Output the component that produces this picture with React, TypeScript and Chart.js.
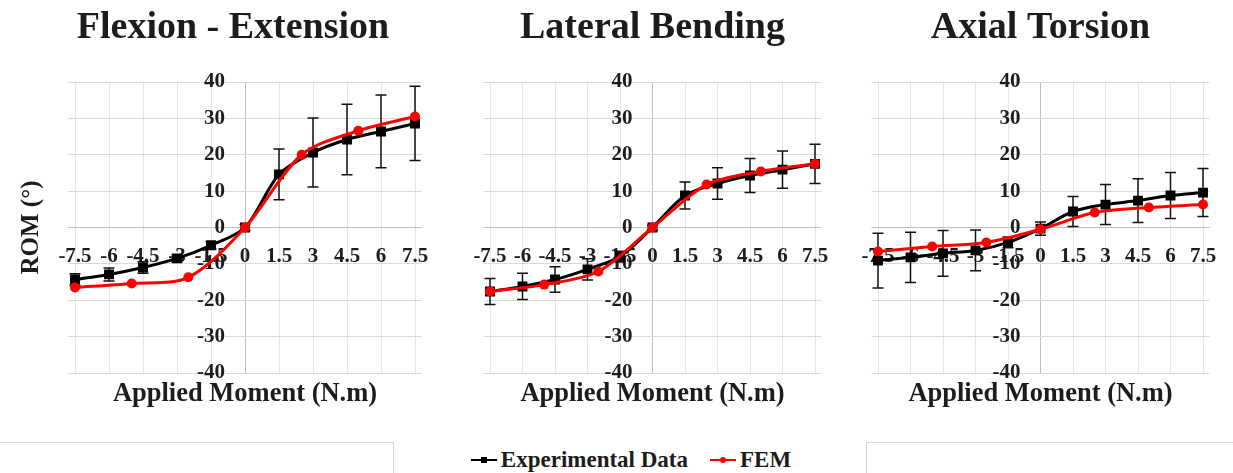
import React, { useEffect, useRef } from "react";
import { Chart, registerables } from "chart.js";

Chart.register(...registerables);

// ---------- data ----------
const xTicks = [-7.5, -6, -4.5, -3, -1.5, 0, 1.5, 3, 4.5, 6, 7.5];
const yTicks = [-40, -30, -20, -10, 0, 10, 20, 30, 40];
const expMoments = [-7.5, -6, -4.5, -3, -1.5, 0, 1.5, 3, 4.5, 6, 7.5];
const femMoments = [-7.5, -5, -2.5, 0, 2.5, 5, 7.5];

const panelTitles = ["Flexion - Extension", "Lateral Bending", "Axial Torsion"];
const seriesNames = ["Experimental Data", "FEM"];
const xAxisTitle = "Applied Moment (N.m)";
const yAxisTitle = "ROM (°)";

const flexExp = [-14.3, -12.9, -11.0, -8.5, -4.9, 0, 14.6, 20.6, 24.2, 26.4, 28.6];
const flexErr = [1.6, 1.8, 1.6, 1.0, 1.0, 0.8, 7.0, 9.5, 9.7, 10.0, 10.2];
const flexFem = [-16.5, -15.4, -13.7, 0, 20.0, 26.6, 30.5];

const latExp = [-17.6, -16.2, -14.3, -11.5, -8.0, 0, 8.8, 12.1, 14.3, 15.9, 17.5];
const latErr = [3.6, 3.6, 3.5, 2.9, 1.5, 0.6, 3.7, 4.3, 4.7, 5.1, 5.4];
const latFem = [-17.6, -15.7, -12.1, 0, 11.8, 15.4, 17.5];

const axExp = [-9.1, -8.2, -7.1, -6.3, -4.1, -0.3, 4.4, 6.3, 7.4, 8.8, 9.6];
const axErr = [7.5, 6.9, 6.3, 5.6, 1.5, 1.8, 4.1, 5.5, 6.0, 6.3, 6.6];
const axFem = [-6.6, -5.2, -4.1, -0.5, 4.1, 5.5, 6.3];

const panelExp = [flexExp, latExp, axExp];
const panelErr = [flexErr, latErr, axErr];
const panelFem = [flexFem, latFem, axFem];

// ---------- layout / style ----------
const FONT = '"Liberation Serif", "Times New Roman", serif';
const TEXT = "#1c1c1c";
const CANVAS_H = 420;
const X_MIN = -7.8;
const X_MAX = 7.8;
const Y_MIN = -40;
const Y_MAX = 40;
const AREA_H = 291;
const Y_LABEL_GAP = 20; // px between y tick labels and the vertical axis
const X_LABEL_GAP = 16; // px between the zero line and the x tick labels
const layouts = [
  { left: 0, width: 430, padL: 44.2, padR: 8.2, areaW: 353.6, rom: true },
  { left: 440, width: 400, padL: 43.5, padR: 18.5, areaW: 338, rom: false },
  { left: 840, width: 393, padL: 31.5, padR: 23.5, areaW: 338, rom: false },
];

const errorBarPlugin = {
  id: "errorBars",
  beforeDatasetsDraw(chart: any) {
    const { ctx } = chart;
    const yScale = chart.scales.y;
    chart.data.datasets.forEach((ds: any, i: number) => {
      if (!ds.errors) return;
      const meta = chart.getDatasetMeta(i);
      ctx.save();
      ctx.strokeStyle = "#111";
      ctx.lineWidth = 1.5;
      meta.data.forEach((pt: any, j: number) => {
        const v = ds.data[j].y;
        const e = ds.errors[j];
        const yTop = yScale.getPixelForValue(v + e);
        const yBot = yScale.getPixelForValue(v - e);
        const x = pt.x;
        ctx.beginPath();
        ctx.moveTo(x, yTop);
        ctx.lineTo(x, yBot);
        ctx.moveTo(x - 5.5, yTop);
        ctx.lineTo(x + 5.5, yTop);
        ctx.moveTo(x - 5.5, yBot);
        ctx.lineTo(x + 5.5, yBot);
        ctx.stroke();
      });
      ctx.restore();
    });
  },
};

function makeConfig(i: number): any {
  const L = layouts[i];
  const tickFont = { family: FONT, size: 21, weight: "bold" as const };
  const ppuX = L.areaW / (X_MAX - X_MIN);
  const ppuY = AREA_H / (Y_MAX - Y_MIN);
  const scales: any = {
    x: {
      type: "linear",
      position: { y: -X_LABEL_GAP / ppuY },
      min: X_MIN,
      max: X_MAX,
      afterBuildTicks: (s: any) => {
        s.ticks = xTicks.map((v) => ({ value: v }));
      },
      ticks: {
        font: tickFont,
        color: TEXT,
        padding: 0,
        autoSkip: false,
        maxRotation: 0,
        minRotation: 0,
        callback: (v: any) => String(v),
      },
      grid: {
        drawTicks: false,
        color: (c: any) => (c.tick && c.tick.value === 0 ? "#bfbfbf" : "#e6e6e6"),
      },
      border: { display: false },
    },
    y: {
      type: "linear",
      position: { x: -Y_LABEL_GAP / ppuX },
      min: Y_MIN,
      max: Y_MAX,
      afterBuildTicks: (s: any) => {
        s.ticks = yTicks.map((v) => ({ value: v }));
      },
      ticks: {
        font: tickFont,
        color: TEXT,
        padding: 0,
        callback: (v: any) => String(v),
      },
      grid: {
        drawTicks: false,
        color: (c: any) => (c.tick && c.tick.value === 0 ? "#bfbfbf" : "#dadada"),
      },
      border: { display: false },
    },
    xTitle: {
      type: "linear",
      axis: "x",
      position: "bottom",
      min: 0,
      max: 1,
      ticks: { display: false },
      grid: { display: false, drawTicks: false },
      border: { display: false },
      title: {
        display: true,
        text: xAxisTitle,
        color: TEXT,
        font: { family: FONT, size: 26.5, weight: "bold" },
        padding: { top: 5, bottom: 10.2 },
      },
    },
  };
  if (L.rom) {
    scales.yTitle = {
      type: "linear",
      axis: "y",
      position: "left",
      min: Y_MIN,
      max: Y_MAX,
      ticks: { display: false },
      grid: { display: false, drawTicks: false },
      border: { display: false },
      title: {
        display: true,
        text: yAxisTitle,
        color: TEXT,
        font: { family: FONT, size: 25, weight: "bold", lineHeight: 1 },
        padding: { top: -24.7, bottom: 23.7 },
      },
    };
  }
  return {
    type: "scatter",
    data: {
      datasets: [
        {
          label: seriesNames[0],
          data: expMoments.map((x, j) => ({ x, y: panelExp[i][j] })),
          errors: panelErr[i],
          showLine: true,
          tension: 0.3,
          borderColor: "#000000",
          backgroundColor: "#000000",
          borderWidth: 3,
          pointStyle: "rect",
          pointRadius: 7,
          pointBorderWidth: 0,
          order: 1,
        },
        {
          label: seriesNames[1],
          data: femMoments.map((x, j) => ({ x, y: panelFem[i][j] })),
          showLine: true,
          tension: 0.3,
          borderColor: "#ff0000",
          backgroundColor: "#ff0000",
          borderWidth: 3,
          pointStyle: "circle",
          pointRadius: 5,
          pointBorderWidth: 0,
          order: 0,
        },
      ],
    },
    options: {
      responsive: false,
      animation: false,
      layout: { padding: { left: L.padL, right: L.padR, top: 0, bottom: 0 } },
      scales,
      plugins: {
        legend: { display: false },
        tooltip: { enabled: false },
        title: {
          display: true,
          text: panelTitles[i],
          color: TEXT,
          font: { family: FONT, size: 38, weight: "bold" },
          padding: { top: 5.2, bottom: 31.2 },
        },
      },
    },
    plugins: [errorBarPlugin],
  };
}

function LegendItem({ color, label, square }: { color: string; label: string; square: boolean }) {
  return (
    <div style={{ display: "flex", alignItems: "center", marginLeft: 11, marginRight: 11 }}>
      <div style={{ position: "relative", width: 26, height: 10, marginRight: 4 }}>
        <div style={{ position: "absolute", left: 0, top: 4, width: 26, height: 2, background: color }} />
        <div
          style={{
            position: "absolute",
            left: 10,
            top: 2,
            width: 6,
            height: 6,
            background: color,
            borderRadius: square ? 0 : 3,
          }}
        />
      </div>
      <span style={{ fontFamily: FONT, fontWeight: "bold", fontSize: 23, color: TEXT }}>{label}</span>
    </div>
  );
}

export default function App() {
  const r0 = useRef<HTMLCanvasElement>(null);
  const r1 = useRef<HTMLCanvasElement>(null);
  const r2 = useRef<HTMLCanvasElement>(null);
  const refs = [r0, r1, r2];

  useEffect(() => {
    const charts = refs.map((r, i) => new Chart(r.current as HTMLCanvasElement, makeConfig(i)));
    return () => charts.forEach((c) => c.destroy());
  }, []);

  return (
    <div
      style={{
        position: "fixed",
        left: 0,
        top: 0,
        width: 1233,
        height: 473,
        background: "#ffffff",
        overflow: "hidden",
      }}
    >
      {layouts.map((L, i) => (
        <canvas
          key={i}
          ref={refs[i]}
          width={L.width}
          height={CANVAS_H}
          style={{ position: "absolute", left: L.left, top: 0, width: L.width, height: CANVAS_H }}
        />
      ))}
      {/* bottom frame lines */}
      <div style={{ position: "absolute", left: 0, top: 442, width: 393, height: 1, background: "#d6d6d6" }} />
      <div style={{ position: "absolute", left: 393, top: 442, width: 1, height: 31, background: "#d6d6d6" }} />
      <div style={{ position: "absolute", left: 866, top: 442, width: 367, height: 1, background: "#d6d6d6" }} />
      <div style={{ position: "absolute", left: 866, top: 442, width: 1, height: 31, background: "#d6d6d6" }} />
      <div
        style={{
          position: "absolute",
          left: 0,
          top: 446,
          width: 1262,
          height: 28,
          display: "flex",
          justifyContent: "center",
          alignItems: "center",
        }}
      >
        <LegendItem color="#000000" label={seriesNames[0]} square={true} />
        <LegendItem color="#ff0000" label={seriesNames[1]} square={false} />
      </div>
    </div>
  );
}
